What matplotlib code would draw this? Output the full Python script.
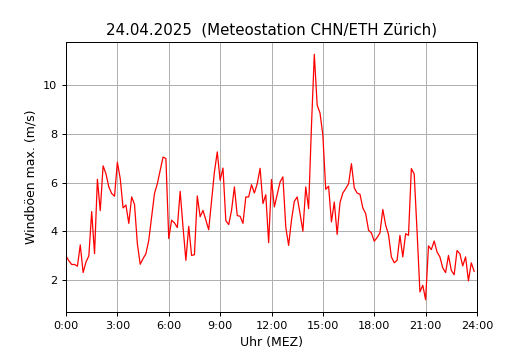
import matplotlib
matplotlib.use("Agg")
import matplotlib.pyplot as plt
import numpy as np

# 10-minute values from 0:00 to 23:50
gusts = [
    3.0, 2.8, 2.65, 2.65, 2.58, 3.45,
    2.32, 2.75, 3.0, 4.81, 3.09, 6.13,
    4.85, 6.68, 6.36, 5.82, 5.55, 5.44,
    6.83, 6.16, 4.96, 5.08, 4.33, 5.41,
    5.11, 3.50, 2.66, 2.89, 3.09, 3.64,
    4.59, 5.55, 5.95, 6.50, 7.04, 6.98,
    3.71, 4.46, 4.35, 4.16, 5.64, 4.18,
    2.82, 4.21, 3.02, 3.05, 5.45, 4.60,
    4.86, 4.46, 4.07, 5.27, 6.43, 7.25,
    6.09, 6.59, 4.44, 4.28, 4.86, 5.82,
    4.65, 4.62, 4.33, 5.41, 5.41, 5.91,
    5.57, 5.95, 6.58, 5.14, 5.50, 3.54,
    6.12, 5.00, 5.52, 6.02, 6.23, 4.18,
    3.43, 4.46, 5.23, 5.41, 4.73, 4.01,
    5.82, 4.93, 8.30, 11.24, 9.16, 8.84,
    7.93, 5.72, 5.85, 4.39, 5.20, 3.88,
    5.18, 5.57, 5.75, 5.95, 6.77, 5.78,
    5.57, 5.52, 4.96, 4.73, 4.05, 3.94,
    3.60, 3.75, 3.94, 4.90, 4.26, 3.87,
    2.96, 2.72, 2.82, 3.84, 2.96, 3.91,
    3.84, 6.57, 6.34, 4.00, 1.53, 1.80,
    1.21, 3.41, 3.26, 3.61, 3.16, 2.96,
    2.51, 2.32, 3.02, 2.41, 2.23, 3.22,
    3.09, 2.59, 2.96, 1.98, 2.72, 2.37,
]
hours = np.arange(len(gusts)) / 6.0

tick_hours = [0, 3, 6, 9, 12, 15, 18, 21, 24]
tick_labels = ["0:00", "3:00", "6:00", "9:00", "12:00", "15:00", "18:00", "21:00", "24:00"]
y_ticks = [2, 4, 6, 8, 10]

DPI = 90
fig = plt.figure(figsize=(530 / DPI, 350 / DPI), dpi=DPI)
ax = fig.add_axes([66/530, 1 - 312/350, (477-66)/530, (312-42)/350])
ax.plot(hours, gusts, color="red", linewidth=1.0)
ax.set_xlim(0, 24)
ax.set_xticks(tick_hours)
ax.set_xticklabels(tick_labels)
ax.set_yticks(y_ticks)
ax.tick_params(labelsize=9)
ax.grid(True, color="#b0b0b0", linewidth=0.8)
ax.set_axisbelow(True)
ax.set_title("24.04.2025  (Meteostation CHN/ETH Zürich)", fontsize=12)
ax.set_xlabel("Uhr (MEZ)", fontsize=10)
ax.set_ylabel("Windböen max. (m/s)", fontsize=10)
fig.savefig("out.png", dpi=DPI)
